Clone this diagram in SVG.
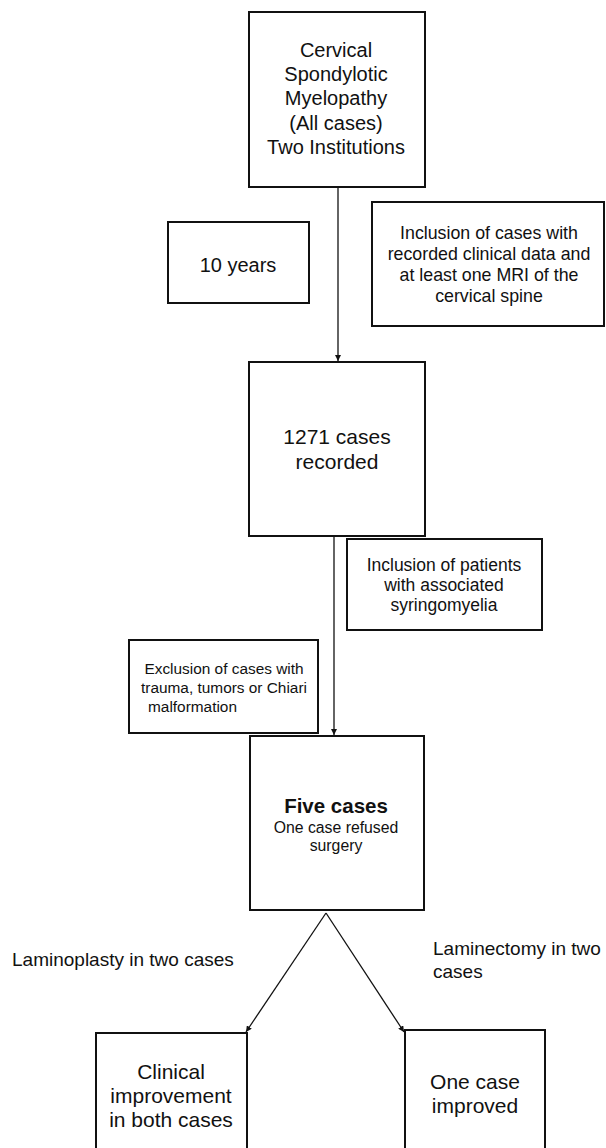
<svg xmlns="http://www.w3.org/2000/svg" width="606" height="1148" viewBox="0 0 606 1148">
<style>
.box{fill:#fff;stroke:#111;stroke-width:2}
.conn{fill:none;stroke:#111;stroke-width:1.3}
text{font-family:"Liberation Sans",Arial,sans-serif;fill:#111}
.c{text-anchor:middle}
</style>
<defs>
<marker id="ah" viewBox="0 0 10 10" refX="10" refY="5" markerWidth="6" markerHeight="6" markerUnits="userSpaceOnUse" orient="auto">
<path d="M0,0 L10,5 L0,10 z" fill="#111"/>
</marker>
</defs>
<rect width="606" height="1148" fill="#fff"/>
<g id="connectors">
<line class="conn" x1="338" y1="187" x2="338" y2="361" marker-end="url(#ah)"/>
<line class="conn" x1="334" y1="536" x2="334" y2="735" marker-end="url(#ah)"/>
<line class="conn" x1="326" y1="913" x2="246" y2="1032" marker-end="url(#ah)"/>
<line class="conn" x1="326" y1="913" x2="404" y2="1032" marker-end="url(#ah)"/>
</g>
<g id="node-csm">
<rect class="box" x="249" y="12" width="176" height="175"/>
<text class="c" font-size="20"><tspan x="336" y="57">Cervical</tspan><tspan x="336" y="81">Spondylotic</tspan><tspan x="336" y="105">Myelopathy</tspan><tspan x="336" y="130">(All cases)</tspan><tspan x="336" y="154">Two Institutions</tspan></text>
</g>
<g id="node-years">
<rect class="box" x="168" y="222" width="141" height="81"/>
<text class="c" font-size="20" x="238" y="272">10 years</text>
</g>
<g id="node-inclusion1">
<rect class="box" x="372" y="202" width="232" height="124"/>
<text class="c" font-size="17.8"><tspan x="489" y="239">Inclusion of cases with</tspan><tspan x="489" y="260">recorded clinical data and</tspan><tspan x="489" y="281">at least one MRI of the</tspan><tspan x="489" y="302">cervical spine</tspan></text>
</g>
<g id="node-1271">
<rect class="box" x="249" y="362" width="176" height="174"/>
<text class="c" font-size="21"><tspan x="337" y="444">1271 cases</tspan><tspan x="337" y="469">recorded</tspan></text>
</g>
<g id="node-inclusion2">
<rect class="box" x="347" y="539" width="195" height="91"/>
<text class="c" font-size="17.5"><tspan x="444" y="571">Inclusion of patients</tspan><tspan x="444" y="591">with associated</tspan><tspan x="444" y="611">syringomyelia</tspan></text>
</g>
<g id="node-exclusion">
<rect class="box" x="129" y="640" width="189" height="93"/>
<text font-size="15.4"><tspan class="c" x="224" y="674">Exclusion of cases with</tspan><tspan class="c" x="224" y="693">trauma, tumors or Chiari</tspan><tspan x="148" y="712">malformation</tspan></text>
</g>
<g id="node-five">
<rect class="box" x="250" y="736" width="174" height="174"/>
<text class="c" font-size="20.5" font-weight="bold" x="336" y="813">Five cases</text>
<text class="c" font-size="15.8"><tspan x="336" y="833">One case refused</tspan><tspan x="336" y="851">surgery</tspan></text>
</g>
<g id="label-laminoplasty">
<text font-size="19" x="12" y="966">Laminoplasty in two cases</text>
</g>
<g id="label-laminectomy">
<text font-size="19"><tspan x="433" y="955">Laminectomy in two</tspan><tspan x="433" y="978">cases</tspan></text>
</g>
<g id="node-clinical">
<rect class="box" x="96" y="1033" width="151" height="130"/>
<text class="c" font-size="21"><tspan x="171" y="1079">Clinical</tspan><tspan x="171" y="1103">improvement</tspan><tspan x="171" y="1127">in both cases</tspan></text>
</g>
<g id="node-onecase">
<rect class="box" x="405" y="1030" width="140" height="130"/>
<text class="c" font-size="21"><tspan x="475" y="1089">One case</tspan><tspan x="475" y="1113">improved</tspan></text>
</g>
</svg>
